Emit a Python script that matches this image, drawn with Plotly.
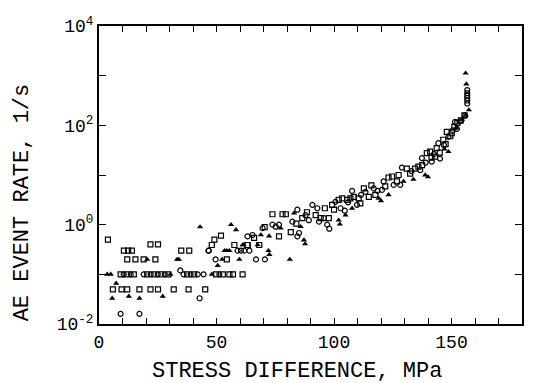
import plotly.graph_objects as go

# --- data (stress in MPa, AE event rate in 1/s) ---
sq_x = [3.8, 10.6, 12.4, 14.0, 21.9, 25.1, 12.0, 15.5, 19.0, 24.0, 35.0, 38.4,
        9.2, 12.0, 14.8, 20.5, 23.5, 26.5, 29.5, 37.5, 40.5, 49.8, 52.7, 55.5, 57.0, 61.1,
        5.9, 9.6, 12.0, 17.2, 21.9, 25.1, 31.8, 38.1, 45.2,
        54.4, 48.0, 57.6, 63.2, 68.2, 49.1, 51.9,
        63.2, 66.0, 73.8, 76.6, 78.1, 79.5, 81.6, 86.5, 92.2, 94.3, 96.1, 97.8, 99.2,
        102.0, 103.5, 105.6, 107.0, 108.4, 110.5, 111.2, 112.7, 114.8, 115.9, 117.6,
        121.8, 123.2, 124.7, 126.8, 127.5, 131.0, 132.4, 134.5, 135.9, 139.5, 140.9,
        143.0, 143.7, 146.5, 148.0, 150.1, 151.2, 152.5, 154.0, 155.5, 149.5, 147.5,
        145.0, 141.5, 137.5, 70.5, 84.0, 88.5, 100.0]
sq_y = [0.5, 0.3, 0.3, 0.3, 0.4, 0.4, 0.2, 0.2, 0.2, 0.2, 0.3, 0.3,
        0.1, 0.1, 0.1, 0.1, 0.1, 0.1, 0.1, 0.1, 0.1, 0.1, 0.1, 0.1, 0.1, 0.1,
        0.05, 0.05, 0.05, 0.05, 0.05, 0.05, 0.05, 0.05, 0.05,
        0.2, 0.39, 0.39, 0.39, 0.39, 0.5, 0.6,
        0.39, 0.54, 1.62, 0.58, 1.62, 1.62, 0.71, 1.35, 1.55, 1.35, 2.14, 1.35, 2.51,
        3.16, 3.39, 3.16, 3.39, 3.63, 3.39, 2.69, 5.37, 3.63, 6.17, 3.98,
        5.89, 8.91, 9.33, 7.41, 10.0, 13.5, 10.7, 13.5, 14.8, 27.5, 29.5,
        23.4, 34.7, 51.3, 74.1, 69.2, 93.3, 112.0, 126.0, 158.0, 60.3, 41.7,
        28.2, 22.4, 15.8, 0.89, 1.05, 1.78, 2.0]

ci_x = [46.6, 34.6, 9.2, 17.2, 42.8,
        10.5, 13.5, 19.0, 22.0, 25.0, 28.0, 36.0, 39.0, 42.0, 51.2, 44.5,
        49.6, 66.8, 70.6, 46.7, 59.0, 60.4, 61.8, 64.0,
        63.2, 65.3, 69.6, 73.8, 75.2, 76.6, 82.3, 84.4, 85.1, 84.4, 87.9, 89.3, 90.8,
        92.9, 93.6, 95.7, 97.1, 98.0, 100.6, 102.8, 104.6, 107.7, 109.8, 113.4, 116.9,
        120.4, 121.1, 125.4, 128.2, 128.9, 136.7, 137.4, 141.6, 145.1, 144.4, 148.7, 151.5,
        156.7, 156.7, 156.7, 156.7, 156.7, 156.7, 155.8, 153.5, 152.3, 150.5, 146.8,
        142.5, 139.0, 133.0, 118.5, 111.5, 106.0]
ci_y = [0.3, 0.12, 0.016, 0.016, 0.033,
        0.1, 0.1, 0.1, 0.1, 0.1, 0.1, 0.1, 0.1, 0.1, 0.1, 0.1,
        0.2, 0.2, 0.2, 0.3, 0.3, 0.3, 0.3, 0.3,
        0.58, 0.62, 0.85, 1.0, 0.91, 1.0, 1.15, 2.0, 0.68, 0.58, 1.55, 1.23, 2.51,
        2.14, 1.15, 1.35, 1.0, 0.83, 2.88, 2.14, 1.91, 4.79, 2.51, 4.57, 5.37,
        5.01, 7.41, 6.31, 6.31, 14.1, 12.6, 21.9, 18.6, 21.4, 43.7, 58.9, 117.0,
        513.0, 447.0, 398.0, 355.0, 316.0, 275.0, 158.0, 120.0, 85.0, 79.0, 39.8,
        26.3, 17.8, 12.0, 4.79, 3.98, 2.82]

tr_x = [3.5, 5.0, 7.3, 12.7, 27.1, 5.6, 17.2, 20.5, 33.2, 34.0, 43.0, 48.0, 52.4,
        59.7, 81.2, 50.5, 53.4, 54.4, 55.5, 72.1, 61.5, 72.5, 87.7, 30.4, 56.2, 58.3,
        61.1, 67.5, 68.9, 72.4, 77.3, 83.0, 85.8, 87.2, 102.0, 102.5, 104.9, 107.7,
        119.0, 120.0, 123.2, 129.6, 133.8, 138.8, 140.0, 147.0, 148.7,
        156.0, 156.3, 157.4, 156.0, 154.5, 152.0]
tr_y = [0.1, 0.1, 0.066, 0.036, 0.036, 0.033, 0.033, 0.2, 0.2, 0.2, 0.9, 0.1, 0.2,
        0.2, 0.2, 0.15, 0.3, 0.3, 0.3, 0.3, 0.39, 0.25, 0.41, 0.1, 1.0, 0.79,
        0.39, 0.39, 0.62, 0.59, 0.85, 1.7, 0.91, 0.49, 1.23, 1.02, 1.55, 2.14,
        3.39, 3.02, 3.98, 7.41, 8.13, 10.0, 9.12, 33.1, 29.5,
        1122.0, 676.0, 204.0, 158.0, 132.0, 89.0]

x_major = [0, 50, 100, 150]
x_major_labels = ["0", "50", "100", "150"]
x_minor = list(range(0, 190, 10))
y_major = [1e-2, 1e0, 1e2, 1e4]
y_major_labels = ["10<sup>-2</sup>", "10<sup>0</sup>", "10<sup>2</sup>", "10<sup>4</sup>"]
y_minor = [1e-2, 1e-1, 1e0, 1e1, 1e2, 1e3, 1e4]

x_title = "STRESS DIFFERENCE, MPa"
y_title = "AE EVENT RATE, 1/s"

FONT = "Liberation Mono"

fig = go.Figure()
fig.add_trace(go.Scatter(x=sq_x, y=sq_y, mode="markers", name="square",
                         marker=dict(symbol="square-open", size=5, color="black",
                                     line=dict(width=1.2, color="black"))))
fig.add_trace(go.Scatter(x=ci_x, y=ci_y, mode="markers", name="circle",
                         marker=dict(symbol="circle-open", size=5, color="black",
                                     line=dict(width=1.2, color="black"))))
fig.add_trace(go.Scatter(x=tr_x, y=tr_y, mode="markers", name="triangle",
                         marker=dict(symbol="triangle-up", size=5.5, color="black",
                                     line=dict(width=0))))

axis_common = dict(ticks="inside", tickwidth=1, tickcolor="black",
                   showline=True, linecolor="black", linewidth=2, mirror="ticks",
                   showgrid=False, zeroline=False,
                   tickfont=dict(family=FONT, size=18))

fig.update_layout(
    width=533, height=383,
    margin=dict(l=99, r=9, t=26, b=59),
    paper_bgcolor="white", plot_bgcolor="white",
    showlegend=False,
    font=dict(family=FONT, color="black", size=16),
    xaxis=dict(range=[0, 180], tickvals=x_major, ticktext=x_major_labels, ticklen=6,
               minor=dict(tickvals=x_minor, ticks="inside", ticklen=6,
                          tickwidth=1, tickcolor="black", showgrid=False),
               **axis_common),
    yaxis=dict(type="log", range=[-2, 4], tickvals=y_major, ticktext=y_major_labels,
               ticklen=7,
               minor=dict(tickvals=y_minor, ticks="inside", ticklen=7,
                          tickwidth=1, tickcolor="black", showgrid=False),
               **axis_common),
    annotations=[
        dict(text=x_title, xref="paper", yref="paper", x=(298 - 99) / 425,
             y=-(371 - 324) / 298, xanchor="center", yanchor="middle",
             showarrow=False, font=dict(family=FONT, size=22)),
        dict(text=y_title, xref="paper", yref="paper", x=-(99 - 22) / 425,
             y=(324 - 202) / 298, xanchor="center", yanchor="middle", textangle=-90,
             showarrow=False, font=dict(family=FONT, size=22)),
    ],
)

fig.write_html("out.html")
